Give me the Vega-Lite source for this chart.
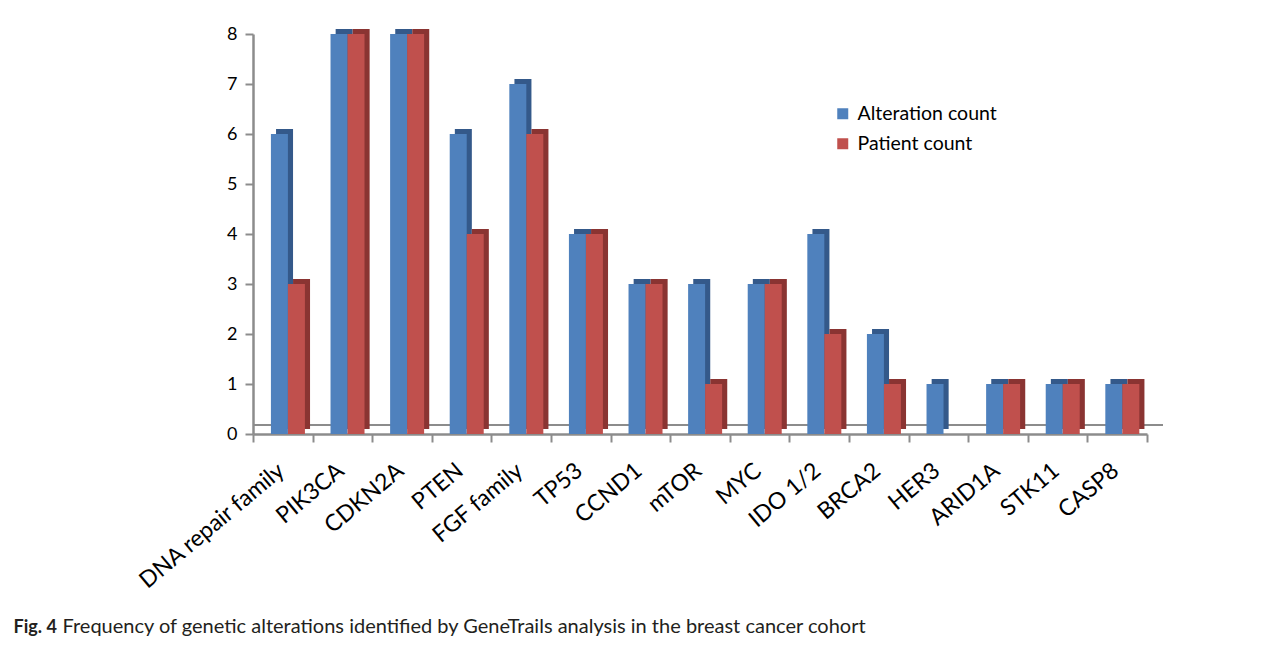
{
  "$schema": "https://vega.github.io/schema/vega-lite/v6.json",
  "autosize": "none",
  "width": 894,
  "height": 400,
  "padding": {"left": 253, "top": 34, "right": 140, "bottom": 211},
  "background": "white",
  "config": {"view": {"stroke": null}, "font": "Lato"},
  "data": {
    "values": [
      {"gene": "DNA repair family", "Alteration count": 6, "Patient count": 3},
      {"gene": "PIK3CA", "Alteration count": 8, "Patient count": 8},
      {"gene": "CDKN2A", "Alteration count": 8, "Patient count": 8},
      {"gene": "PTEN", "Alteration count": 6, "Patient count": 4},
      {"gene": "FGF family", "Alteration count": 7, "Patient count": 6},
      {"gene": "TP53", "Alteration count": 4, "Patient count": 4},
      {"gene": "CCND1", "Alteration count": 3, "Patient count": 3},
      {"gene": "mTOR", "Alteration count": 3, "Patient count": 1},
      {"gene": "MYC", "Alteration count": 3, "Patient count": 3},
      {"gene": "IDO 1/2", "Alteration count": 4, "Patient count": 2},
      {"gene": "BRCA2", "Alteration count": 2, "Patient count": 1},
      {"gene": "HER3", "Alteration count": 1, "Patient count": 0},
      {"gene": "ARID1A", "Alteration count": 1, "Patient count": 1},
      {"gene": "STK11", "Alteration count": 1, "Patient count": 1},
      {"gene": "CASP8", "Alteration count": 1, "Patient count": 1}
    ]
  },
  "transform": [
    {"fold": ["Alteration count", "Patient count"], "as": ["series", "count"]}
  ],
  "layer": [
    {
      "mark": {"type": "rule", "xOffset": 16, "yOffset": -9, "color": "#8c8c8c", "strokeWidth": 2},
      "encoding": {"y": {"datum": 0, "type": "quantitative", "scale": {"domain": [0, 8]}}}
    },
    {
      "mark": {"type": "bar", "yOffset": -5},
      "encoding": {
        "x": {"field": "gene", "type": "nominal", "sort": null, "scale": {"paddingInner": 0, "paddingOuter": 0}},
        "xOffset": {"field": "series", "type": "nominal", "scale": {"paddingInner": 0, "paddingOuter": 0.753, "align": 0.9}},
        "y": {"field": "count", "type": "quantitative", "scale": {"domain": [0, 8]}},
        "color": {
          "field": "series",
          "type": "nominal",
          "scale": {"domain": ["Alteration count", "Patient count"], "range": ["#34598a", "#8a3432"]},
          "legend": null
        },
        "opacity": {"condition": {"test": "datum.count == 0", "value": 0}, "value": 1}
      }
    },
    {
      "mark": {"type": "bar"},
      "encoding": {
        "x": {
          "field": "gene",
          "type": "nominal",
          "sort": null,
          "scale": {"paddingInner": 0, "paddingOuter": 0},
          "axis": {
            "title": "Frequency of genetic alterations identified by GeneTrails analysis in the breast cancer cohort",
            "titleX": -191,
            "titleY": 198,
            "titleAlign": "left",
            "titleAnchor": null,
            "titleBaseline": "alphabetic",
            "titleFont": "Lato",
            "titleFontSize": 20,
            "titleFontWeight": "normal",
            "titleColor": "#231f20",
            "labelAngle": -40,
            "labelAlign": "right",
            "labelBaseline": "top",
            "labelFontSize": 23,
            "labelColor": "black",
            "labelPadding": 17,
            "labelOffset": -9,
            "labelLimit": 400,
            "tickBand": "extent",
            "tickSize": 8,
            "tickWidth": 2,
            "tickColor": "#8c8c8c",
            "domainColor": "#8c8c8c",
            "domainWidth": 2.5,
            "labelOverlap": false
          }
        },
        "xOffset": {"field": "series", "type": "nominal", "scale": {"paddingInner": 0, "paddingOuter": 0.753, "align": 0.7}},
        "y": {
          "field": "count",
          "type": "quantitative",
          "scale": {"domain": [0, 8]},
          "axis": {
            "title": "Fig. 4",
            "titleAngle": 0,
            "titleX": -240,
            "titleY": 598,
            "titleAlign": "left",
            "titleAnchor": null,
            "titleBaseline": "alphabetic",
            "titleFont": "Lato",
            "titleFontSize": 18,
            "titleFontWeight": "bold",
            "titleColor": "#231f20",
            "tickCount": 8,
            "labelFontSize": 18,
            "labelColor": "black",
            "labelPadding": 8,
            "tickSize": 8,
            "tickWidth": 2,
            "tickColor": "#8c8c8c",
            "domainColor": "#8c8c8c",
            "domainWidth": 2.5,
            "grid": false
          }
        },
        "color": {
          "field": "series",
          "type": "nominal",
          "title": null,
          "scale": {"domain": ["Alteration count", "Patient count"], "range": ["#4f81bd", "#c0504d"]},
          "legend": {
            "orient": "none",
            "legendX": 580,
            "legendY": 70,
            "symbolType": "square",
            "symbolSize": 121,
            "symbolStrokeWidth": 0,
            "labelFontSize": 19.5,
            "labelColor": "black",
            "labelOffset": 5,
            "rowPadding": 9,
            "padding": 0
          }
        }
      }
    }
  ],
  "resolve": {"scale": {"color": "independent", "xOffset": "independent"}}
}
